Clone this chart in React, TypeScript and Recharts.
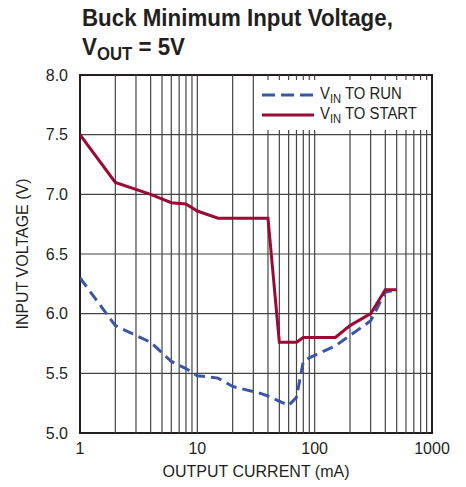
import React from 'react'
import {
  LineChart,
  Line,
  XAxis,
  YAxis,
  CartesianGrid,
  ReferenceLine,
  ReferenceArea,
} from 'recharts'

// output current (mA) and input voltage (V)
const RUN_CURRENT = [1, 2, 4, 6, 8, 10, 15, 20, 35, 40, 60, 70, 80, 90, 150, 300, 400, 500]
const RUN_VOLTAGE = [6.3, 5.9, 5.76, 5.6, 5.54, 5.48, 5.46, 5.39, 5.33, 5.31, 5.23, 5.3, 5.6, 5.63, 5.73, 5.94, 6.18, 6.2]

const START_CURRENT = [1, 2, 4, 6, 8, 10, 15, 40, 50, 70, 80, 150, 200, 300, 400, 500]
const START_VOLTAGE = [7.5, 7.1, 7.0, 6.93, 6.92, 6.86, 6.8, 6.8, 5.76, 5.76, 5.8, 5.8, 5.9, 6.0, 6.2, 6.2]

const X_TICKS = [1, 10, 100, 1000]
const Y_TICKS = [5, 5.5, 6, 6.5, 7, 7.5, 8]
const X_MINOR = [2, 3, 4, 5, 6, 7, 8, 9, 10, 20, 30, 40, 50, 60, 70, 80, 90, 100, 200, 300, 400, 500, 600, 700, 800, 900]

const runData = RUN_CURRENT.map((c, i) => ({ current: c, run: RUN_VOLTAGE[i] }))
const startData = START_CURRENT.map((c, i) => ({ current: c, start: START_VOLTAGE[i] }))

const FONT = '"Liberation Sans Narrow", "Liberation Sans", Arial, sans-serif'
const INK = '#231f20'
const BLUE = '#3a56a6'
const RED = '#9a0a35'

function LegendBox() {
  const row = (dashed: boolean, color: string, rest: string) => (
    <div style={{ display: 'flex', alignItems: 'center', height: 20 }}>
      <svg width={54} height={8} style={{ marginRight: 5 }}>
        <line
          x1={1}
          y1={4}
          x2={53}
          y2={4}
          stroke={color}
          strokeWidth={3}
          strokeDasharray={dashed ? '13 6' : undefined}
        />
      </svg>
      <span style={{ fontSize: 16, color: INK, display: 'inline-block', transform: 'scaleX(0.93)', transformOrigin: 'left' }}>
        V<sub style={{ fontSize: 12, verticalAlign: -4 }}>IN</sub> {rest}
      </span>
    </div>
  )
  return (
    <div
      style={{
        position: 'absolute',
        left: 257,
        top: 80,
        background: '#fff',
        fontFamily: FONT,
        width: 174,
        height: 50,
        paddingLeft: 4,
        paddingTop: 5,
        boxSizing: 'border-box',
        lineHeight: 1,
        whiteSpace: 'nowrap',
      }}
    >
      {row(true, BLUE, 'TO RUN')}
      {row(false, RED, 'TO START')}
    </div>
  )
}

export default function App() {
  return (
    <div style={{ position: 'absolute', left: 0, top: 0, width: 466, height: 487, background: '#fff' }}>
      <div
        style={{
          position: 'absolute',
          left: 82,
          top: 3,
          fontFamily: FONT,
          fontWeight: 'bold',
          fontSize: 24,
          lineHeight: '29px',
          color: INK,
          transform: 'scaleX(0.93)',
          transformOrigin: 'left',
          whiteSpace: 'nowrap',
        }}
      >
        <div>Buck Minimum Input Voltage,</div>
        <div>
          V<sub style={{ fontSize: 18, verticalAlign: -5 }}>OUT</sub> = 5V
        </div>
      </div>
      <LineChart width={466} height={487} margin={{ top: 75, right: 34, bottom: 24, left: 30 }}>
        <CartesianGrid vertical={false} stroke="#444" strokeWidth={1.2} />
        {X_MINOR.map((v) => (
          <ReferenceLine key={v} x={v} stroke="#444" strokeWidth={1.2} />
        ))}
        <XAxis
          dataKey="current"
          type="number"
          scale="log"
          domain={[1, 1000]}
          ticks={X_TICKS}
          allowDataOverflow
          height={30}
          axisLine={false}
          tickLine={false}
          tick={{ fontSize: 16, fill: INK, fontFamily: FONT }}
          tickMargin={4}
          label={{
            value: 'OUTPUT CURRENT (mA)',
            position: 'insideBottom',
            offset: -14,
            fontSize: 16,
            fill: INK,
            fontFamily: FONT,
          }}
        />
        <YAxis
          type="number"
          domain={[5, 8]}
          ticks={Y_TICKS}
          tickFormatter={(v) => v.toFixed(1)}
          width={50}
          axisLine={false}
          tickLine={false}
          tickMargin={6}
          tick={{ fontSize: 16, fill: INK, fontFamily: FONT }}
          label={{
            value: 'INPUT VOLTAGE (V)',
            angle: -90,
            position: 'insideLeft',
            offset: -8,
            style: { textAnchor: 'middle' },
            fontSize: 16,
            fill: INK,
            fontFamily: FONT,
          }}
        />
        <ReferenceArea x1={1} x2={1000} y1={5} y2={8} fill="none" stroke={INK} strokeWidth={2} />
        <Line
          data={runData}
          dataKey="run"
          type="linear"
          stroke={BLUE}
          strokeWidth={3}
          strokeDasharray="11 6"
          dot={false}
          isAnimationActive={false}
        />
        <Line
          data={startData}
          dataKey="start"
          type="linear"
          stroke={RED}
          strokeWidth={3}
          dot={false}
          isAnimationActive={false}
        />
      </LineChart>
      <LegendBox />
    </div>
  )
}
